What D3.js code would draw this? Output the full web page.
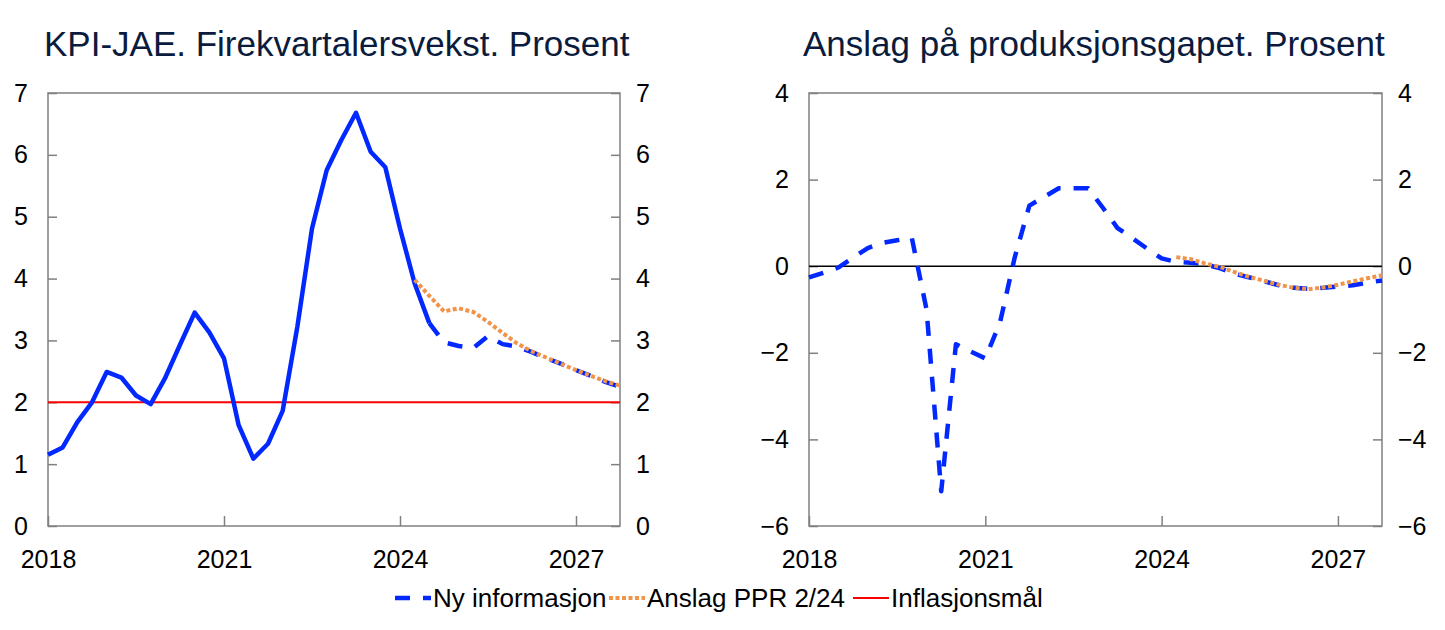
<!DOCTYPE html>
<html>
<head>
<meta charset="utf-8">
<script src="https://cdn.jsdelivr.net/npm/d3@7"></script>
<style>
  body { margin: 0; background: #fff; }
  svg { font-family: "Liberation Sans", Arial, sans-serif; }
</style>
</head>
<body>
<svg id="chart" width="1445" height="630"></svg>
<script>
// Quarterly series, first quarter given by the start year/quarter
const startYear = 2018;

// KPI-JAE, actual, 2018Q1 - 2024Q3
const kpiActual = [1.15, 1.27, 1.68, 2.0, 2.49, 2.40, 2.11, 1.97, 2.40, 2.93, 3.45, 3.13,
  2.71, 1.63, 1.09, 1.33, 1.86, 3.22, 4.81, 5.75, 6.24, 6.68, 6.05, 5.80, 4.81, 3.92, 3.28];
// KPI-JAE, new information, 2024Q3 - 2027Q4
const kpiNew = [3.28, 2.97, 2.91, 2.88, 3.07, 2.94, 2.90, 2.81, 2.71, 2.62, 2.52, 2.43, 2.33, 2.25];
// KPI-JAE, PPR 2/24, 2024Q2 - 2027Q4
const kpiPPR = [3.98, 3.72, 3.47, 3.52, 3.46, 3.30, 3.12, 2.95, 2.82, 2.72, 2.62, 2.52, 2.43, 2.34, 2.27];
const inflationTarget = 2;

// Output gap, new information, 2018Q1 - 2027Q4
const gapNew = [-0.26, -0.15, -0.03, 0.20, 0.42, 0.54, 0.60, 0.65, -1.0, -5.2, -1.8, -1.97,
  -2.13, -1.3, 0.2, 1.4, 1.6, 1.8, 1.8, 1.8, 1.35, 0.88, 0.65, 0.41, 0.18, 0.10, 0.08, 0.04,
  -0.05, -0.18, -0.26, -0.35, -0.44, -0.50, -0.52, -0.50, -0.47, -0.44, -0.38, -0.33];
// Output gap, PPR 2/24, 2024Q2 - 2027Q4
const gapPPR = [0.21, 0.16, 0.06, -0.02, -0.14, -0.25, -0.34, -0.43, -0.50, -0.53, -0.49,
  -0.43, -0.35, -0.28, -0.21];

const xTicks = [2018, 2021, 2024, 2027];
const leftYTicks = [0, 1, 2, 3, 4, 5, 6, 7];
const rightYTicks = [-6, -4, -2, 0, 2, 4];

const titles = ['KPI-JAE. Firekvartalersvekst. Prosent', 'Anslag på produksjonsgapet. Prosent'];
const legendLabels = ['Ny informasjon', 'Anslag PPR 2/24', 'Inflasjonsmål'];

const blue = '#0028ff';
const orange = '#f0944a';
const red = '#ff0000';
const frameColor = '#808080';

// turn a series into points, offset = quarters after 2018Q1
function toPoints(values, offset) {
  return values.map((v, i) => ({ t: startYear + (offset + i) / 4, v: v }));
}

const svg = d3.select('#chart');

function drawPanel(opts) {
  const x = d3.scaleLinear().domain([2018, 2027.75]).range([opts.x0, opts.x1]);
  const y = d3.scaleLinear().domain(opts.yDomain).range([526, 93]);

  const g = svg.append('g');

  // title
  g.append('text')
    .attr('x', opts.titleX)
    .attr('y', 56)
    .attr('font-size', 35)
    .attr('fill', '#0b1b3d')
    .text(opts.title);

  // axes
  const fmt = d => d < 0 ? '\u2212' + Math.abs(d) : String(d);

  g.append('g')
    .attr('transform', `translate(${opts.x0},0)`)
    .call(d3.axisLeft(y).tickValues(opts.yTicks).tickFormat(fmt)
      .tickSizeInner(-9).tickSizeOuter(0).tickPadding(20))
    .call(a => a.select('.domain').remove());

  g.append('g')
    .attr('transform', `translate(${opts.x1},0)`)
    .call(d3.axisRight(y).tickValues(opts.yTicks).tickFormat(fmt)
      .tickSizeInner(-9).tickSizeOuter(0).tickPadding(16))
    .call(a => a.select('.domain').remove());

  g.append('g')
    .attr('transform', `translate(0,526)`)
    .call(d3.axisBottom(x).tickValues(xTicks).tickFormat(d3.format('d'))
      .tickSizeInner(-10).tickSizeOuter(0).tickPadding(24))
    .call(a => a.select('.domain').remove());

  g.selectAll('.tick line').attr('stroke', frameColor).attr('stroke-width', 1.5);
  g.selectAll('.tick text').attr('font-size', 25).attr('fill', '#000')
    .attr('font-family', '"Liberation Sans", Arial, sans-serif');

  // frame
  g.append('rect')
    .attr('x', opts.x0).attr('y', 93)
    .attr('width', opts.x1 - opts.x0).attr('height', 433)
    .attr('fill', 'none').attr('stroke', frameColor).attr('stroke-width', 1.5);

  const line = d3.line().x(d => x(d.t)).y(d => y(d.v));

  opts.series.forEach(s => {
    if (s.hline !== undefined) {
      g.append('line')
        .attr('x1', opts.x0).attr('x2', opts.x1)
        .attr('y1', y(s.hline)).attr('y2', y(s.hline))
        .attr('stroke', s.color).attr('stroke-width', s.width);
      return;
    }
    g.append('path')
      .datum(toPoints(s.values, s.offset))
      .attr('d', line)
      .attr('fill', 'none')
      .attr('stroke', s.color)
      .attr('stroke-width', s.width)
      .attr('stroke-dasharray', s.dash || null)
      .attr('stroke-linejoin', 'round');
  });
}

drawPanel({
  x0: 48, x1: 620, titleX: 44, title: titles[0],
  yDomain: [0, 7], yTicks: leftYTicks,
  series: [
    { hline: inflationTarget, color: red, width: 2 },
    { values: kpiActual, offset: 0, color: blue, width: 4.5 },
    { values: kpiNew, offset: 26, color: blue, width: 4.5, dash: '15,13' },
    { values: kpiPPR, offset: 25, color: orange, width: 4, dash: '4,2.5' }
  ]
});

drawPanel({
  x0: 809, x1: 1382, titleX: 803, title: titles[1],
  yDomain: [-6, 4], yTicks: rightYTicks,
  series: [
    { hline: 0, color: '#000', width: 1.5 },
    { values: gapNew, offset: 0, color: blue, width: 4.5, dash: '15,13' },
    { values: gapPPR, offset: 25, color: orange, width: 4, dash: '4,2.5' }
  ]
});

// legend
const legend = svg.append('g').attr('font-size', 26);
const legendItems = [
  { label: legendLabels[0], x: 395, color: blue, width: 4.5, dash: '15,13' },
  { label: legendLabels[1], x: 609, color: orange, width: 4, dash: '4,2.5' },
  { label: legendLabels[2], x: 853, color: red, width: 2, dash: null }
];
legendItems.forEach(d => {
  legend.append('line')
    .attr('x1', d.x).attr('x2', d.x + 36)
    .attr('y1', 598).attr('y2', 598)
    .attr('stroke', d.color).attr('stroke-width', d.width)
    .attr('stroke-dasharray', d.dash);
  legend.append('text')
    .attr('x', d.x + 38).attr('y', 607)
    .attr('fill', '#000')
    .text(d.label);
});
</script>
</body>
</html>
